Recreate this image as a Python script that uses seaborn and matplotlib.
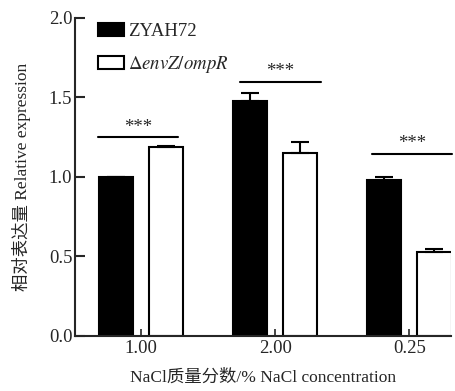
import numpy as np
import pandas as pd
import matplotlib
matplotlib.use("Agg")
import matplotlib.pyplot as plt
from matplotlib.patches import Patch
import seaborn as sns

# Werte
konzentration = ["1.00", "2.00", "0.25"]
staemme = ["ZYAH72", "envZ/ompR"]
mittel_wt = [1.00, 1.48, 0.98]
fehler_wt = [0.0, 0.05, 0.02]
mittel_mut = [1.19, 1.15, 0.53]
fehler_mut = [0.005, 0.07, 0.015]
sig_hoehe = [1.25, 1.60, 1.145]
sig_text = ["***", "***", "***"]

df = pd.DataFrame({
    "conc": konzentration * 2,
    "strain": [staemme[0]] * 3 + [staemme[1]] * 3,
    "expr": mittel_wt + mittel_mut,
})
fehler = {staemme[0]: fehler_wt, staemme[1]: fehler_mut}

sns.set_style("ticks")
plt.rcParams["font.family"] = ["Liberation Serif", "Noto Sans CJK SC"]
plt.rcParams["mathtext.fontset"] = "stix"

fig = plt.figure(figsize=(4.55, 3.91), dpi=100)
ax = fig.add_axes([0.165, 0.141, 0.826, 0.813])

sns.barplot(data=df, x="conc", y="expr", hue="strain", hue_order=staemme,
            order=konzentration, palette=["black", "white"], edgecolor="black",
            linewidth=1.5, width=0.75, gap=0.32, errorbar=None, legend=False,
            ax=ax)

# Fehlerbalken nur nach oben
for cont, name in zip(ax.containers, staemme):
    xs = [p.get_x() + p.get_width() / 2 for p in cont.patches]
    ys = [p.get_height() for p in cont.patches]
    ax.errorbar(xs, ys, yerr=[np.zeros(len(xs)), fehler[name]], fmt="none",
                ecolor="black", elinewidth=1.5, capsize=6.5, capthick=1.5,
                zorder=5)

# Signifikanz
verschiebung = [-0.01, 0.05, 0.03]
for i, (h, t) in enumerate(zip(sig_hoehe, sig_text)):
    x0 = i - 0.31 + verschiebung[i]
    x1 = i + 0.29 + verschiebung[i]
    ax.plot([x0, x1], [h, h], color="black", lw=1.5, clip_on=False)
    ax.text((x0 + x1) / 2, h + 0.01, t, ha="center", va="bottom", fontsize=13.5)

ax.set_ylim(0, 2.0)
ax.set_xlim(-0.49, 2.31)
ax.set_yticks([0, 0.5, 1.0, 1.5, 2.0])
ax.set_yticklabels(["0.0", "0.5", "1.0", "1.5", "2.0"])
ax.tick_params(axis="y", direction="in", length=7, width=1.5, labelsize=13.5, pad=2)
ax.tick_params(axis="x", direction="in", length=5, width=1.2, labelsize=13.5, pad=3)
sns.despine(ax=ax)
for s in ["left", "bottom"]:
    ax.spines[s].set_linewidth(1.5)

ax.set_xlabel("NaCl质量分数/% NaCl concentration", fontsize=12.5, labelpad=9)
ax.set_ylabel("相对表达量 Relative expression", fontsize=12.5, labelpad=13)

handles = [Patch(facecolor="black", edgecolor="black", lw=1.5),
           Patch(facecolor="white", edgecolor="black", lw=1.5)]
labels = ["ZYAH72", r"$\Delta\mathit{envZ/ompR}$"]
ax.legend(handles, labels, loc="upper left", bbox_to_anchor=(0.04, 1.008),
          frameon=False, fontsize=13.5, handlelength=1.4, handleheight=0.7,
          handletextpad=0.2, labelspacing=0.75, borderaxespad=0)

fig.savefig("out.png", dpi=100)
